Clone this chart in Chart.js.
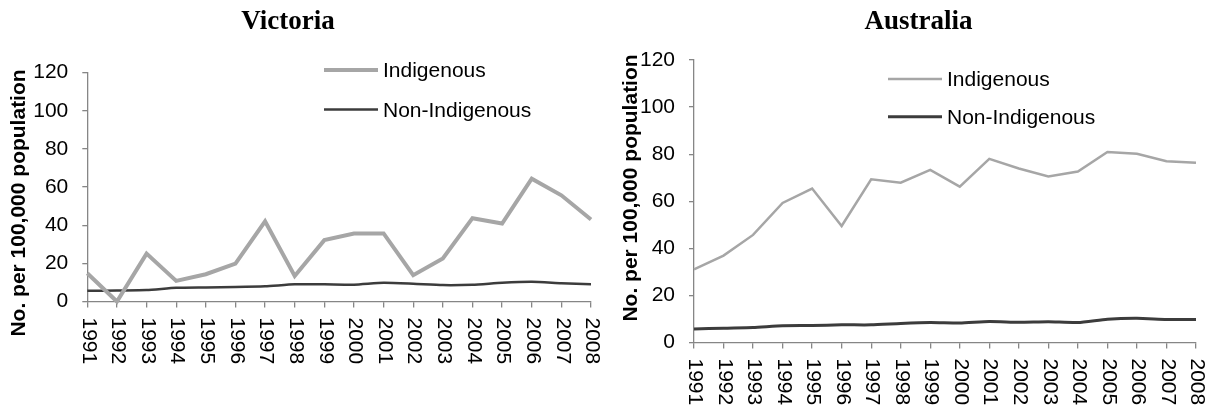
<!DOCTYPE html>
<html>
<head>
<meta charset="utf-8">
<script src="https://cdn.jsdelivr.net/npm/chart.js@4/dist/chart.umd.min.js"></script>
<style>
  html, body { margin: 0; padding: 0; background: #fff; }
  #wrap { position: relative; width: 1212px; height: 410px; }
  canvas { position: absolute; top: 0; }
</style>
</head>
<body>
<div id="wrap">
  <canvas id="vic" width="606" height="410" style="left:0"></canvas>
  <canvas id="aus" width="606" height="410" style="left:606px"></canvas>
</div>
<script>
// data
const years = ["1991", "1992", "1993", "1994", "1995", "1996", "1997", "1998", "1999",
  "2000", "2001", "2002", "2003", "2004", "2005", "2006", "2007", "2008"];
const yTicks = [0, 20, 40, 60, 80, 100, 120];

const vicIndigenous = [14.8, 0, 25.1, 10.8, 14.3, 19.9, 42.1, 13.4, 32.2, 35.7, 35.7, 13.8, 22.6, 43.7, 40.9, 64.4, 55.7, 43.0];
const vicNonIndigenous = [5.6, 5.8, 6.0, 7.2, 7.4, 7.6, 8.0, 9.0, 9.0, 8.8, 9.8, 9.3, 8.6, 8.8, 9.8, 10.3, 9.6, 9.1];

const ausIndigenous = [31.1, 36.9, 45.7, 59.3, 65.4, 49.5, 69.3, 67.9, 73.3, 66.2, 78.0, 73.9, 70.5, 72.6, 80.9, 80.2, 77.0, 76.4];
const ausNonIndigenous = [5.7, 6.1, 6.4, 7.1, 7.2, 7.5, 7.5, 8.1, 8.5, 8.3, 8.9, 8.6, 8.8, 8.5, 9.9, 10.3, 9.8, 9.8];

const seriesNames = ["Indigenous", "Non-Indigenous"];
const yTitle = "No. per 100,000 population";

const SANS = "'Liberation Sans', Arial, sans-serif";
const SERIF = "'Liberation Serif', 'Times New Roman', serif";
const AXIS = "#868686";
const LIGHT = "#a6a6a6";
const DARK = "#3c3c3c";

// draws title, rotated axis title, rotated year labels and the legend
const decor = {
  id: "decor",
  afterDraw(chart, args, o) {
    const ctx = chart.ctx;
    const xs = chart.scales.x;
    ctx.save();
    ctx.fillStyle = "#000";

    // title
    ctx.font = "bold 27px " + SERIF;
    ctx.textAlign = "center";
    ctx.textBaseline = "alphabetic";
    ctx.fillText(o.title, o.titleX, 29);

    // y title (reads bottom to top)
    ctx.save();
    ctx.translate(o.yTitleX, o.yTitleY);
    ctx.rotate(-Math.PI / 2);
    ctx.font = "bold 21px " + SANS;
    ctx.textAlign = "center";
    ctx.textBaseline = "middle";
    ctx.fillText(yTitle, 0, 0);
    ctx.restore();

    // year labels (read top to bottom)
    ctx.font = "21px " + SANS;
    ctx.textAlign = "left";
    ctx.textBaseline = "middle";
    xs.ticks.forEach((t, i) => {
      ctx.save();
      ctx.translate(xs.getPixelForTick(i) + 1, xs.top + 16);
      ctx.rotate(Math.PI / 2);
      ctx.fillText(chart.data.labels[i], 0, 0);
      ctx.restore();
    });

    // legend
    ctx.textBaseline = "alphabetic";
    chart.data.datasets.forEach((ds, i) => {
      const y = o.legendY[i];
      ctx.strokeStyle = ds.borderColor;
      ctx.lineWidth = ds.legendWidth;
      ctx.beginPath();
      ctx.moveTo(o.legendX, y);
      ctx.lineTo(o.legendX + 54, y);
      ctx.stroke();
      ctx.fillText(ds.label, o.legendX + 59, y + 7);
    });
    ctx.restore();
  },
};

function buildPanel(canvasId, indigenous, nonIndigenous, layout) {
  const ctx = document.getElementById(canvasId).getContext("2d");
  return new Chart(ctx, {
    type: "line",
    data: {
      labels: years,
      datasets: [
        {
          label: seriesNames[0],
          data: indigenous,
          borderColor: LIGHT,
          borderWidth: layout.lightWidth,
          legendWidth: layout.lightWidth,
          pointRadius: 0,
          tension: 0,
          clip: false,
        },
        {
          label: seriesNames[1],
          data: nonIndigenous,
          borderColor: DARK,
          borderWidth: layout.darkWidth,
          legendWidth: layout.darkWidth,
          pointRadius: 0,
          tension: 0.2,
          clip: false,
        },
      ],
    },
    options: {
      responsive: false,
      animation: false,
      layout: { padding: { top: layout.top, right: layout.right, left: 0, bottom: 0 } },
      plugins: {
        legend: { display: false },
        tooltip: { enabled: false },
        decor: layout,
      },
      scales: {
        x: {
          offset: false,
          border: { display: true, color: AXIS, width: 1.3 },
          grid: { display: true, drawOnChartArea: false, drawTicks: true, tickLength: 6, color: AXIS, lineWidth: 1.3 },
          ticks: { display: false },
          afterFit: (s) => { s.height = 410 - layout.bottom; },
        },
        y: {
          min: 0,
          max: 120,
          afterBuildTicks: (s) => { s.ticks = yTicks.map((v) => ({ value: v })); },
          border: { display: true, color: AXIS, width: 1.3 },
          grid: { display: true, drawOnChartArea: false, drawTicks: true, tickLength: 5, color: AXIS, lineWidth: 1.3 },
          ticks: { color: "#000", padding: 14, font: { family: SANS, size: 21 } },
          afterFit: (s) => { s.width = layout.left; },
        },
      },
    },
    plugins: [decor],
  });
}

buildPanel("vic", vicIndigenous, vicNonIndigenous, {
  title: "Victoria", titleX: 288,
  yTitleX: 19, yTitleY: 203,
  legendX: 324, legendY: [70, 109.5],
  lightWidth: 4, darkWidth: 2.5,
  top: 72.7, bottom: 301.5, left: 87.3, right: 15,
});

buildPanel("aus", ausIndigenous, ausNonIndigenous, {
  title: "Australia", titleX: 312.5,
  yTitleX: 25, yTitleY: 188,
  legendX: 282, legendY: [79, 116.7],
  lightWidth: 2.5, darkWidth: 3,
  top: 60, bottom: 342.5, left: 88, right: 16,
});
</script>
</body>
</html>
